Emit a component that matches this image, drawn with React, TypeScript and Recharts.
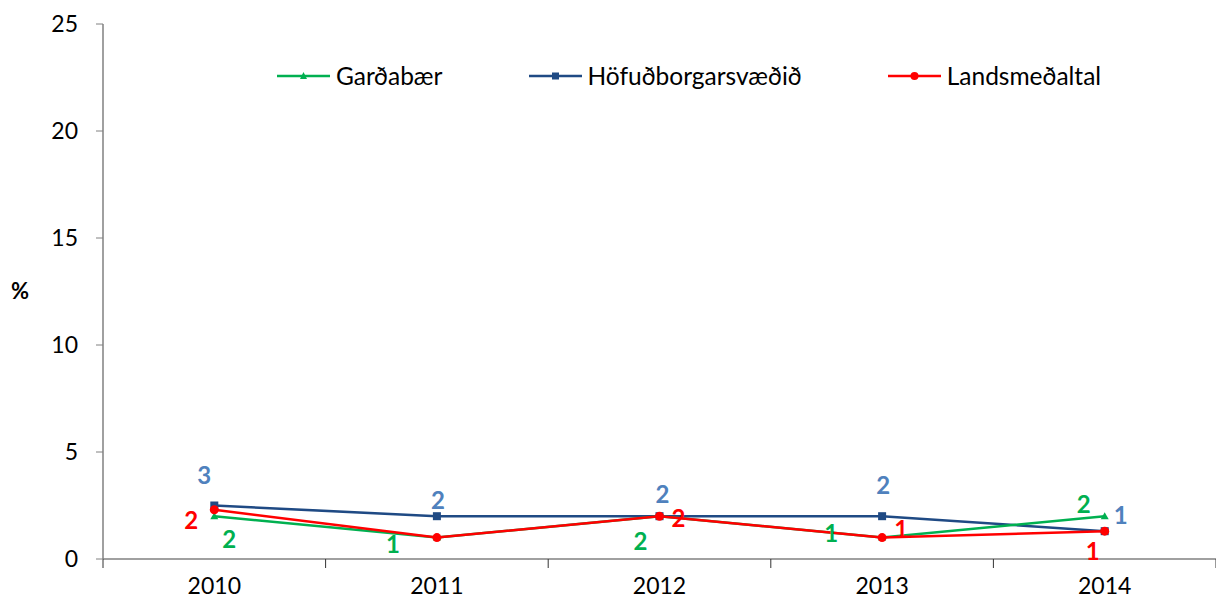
import { LineChart, Line, XAxis, YAxis } from "recharts";

const years = ["2010", "2011", "2012", "2013", "2014"];
const gardabaer = [2.0, 1.0, 2.0, 1.0, 2.0];
const hofudborg = [2.5, 2.0, 2.0, 2.0, 1.3];
const landsmedaltal = [2.3, 1.0, 2.0, 1.0, 1.3];
const yTicks = [0, 5, 10, 15, 20, 25];

// label offsets from the point (dx, dy); null = no label
const blueOff = [[-10, -31], [1, -17], [3, -23], [1, -32], [16, -17]];
const greenOff = [[15, 22], [-44, 6], [-19, 24], [-51, -5], [-21, -13]];
const redOff = [[-23, 10], null, [19, 1], [19, -9], [-12, 19]];

const data = years.map((y, i) => ({
  x: i,
  year: y,
  g: gardabaer[i],
  h: hofudborg[i],
  l: landsmedaltal[i],
}));

const FONT = "Lato, 'Noto Sans', sans-serif";
const GREEN = "#00B050";
const BLUE = "#1F4A84";
const BLUE_LBL = "#4F81BD";
const RED = "#FF0000";

const makeLabel = (color: string, offs: any[]) => (p: any) => {
  const o = offs[p.index];
  if (!o || p.value == null) return null;
  return (
    <text
      x={p.x + o[0]}
      y={p.y + o[1]}
      textAnchor="middle"
      dominantBaseline="central"
      fill={color}
      fontSize={24}
      fontWeight="bold"
      fontFamily={FONT}
    >
      {Math.round(p.value)}
    </text>
  );
};

const Tri = (p: any) => (
  <path d={`M${p.cx},${p.cy - 4} L${p.cx + 4},${p.cy + 3} L${p.cx - 4},${p.cy + 3} Z`} fill={GREEN} />
);
const Sq = (p: any) => <rect x={p.cx - 4} y={p.cy - 4} width={8} height={8} fill={BLUE} />;
const Dot = (p: any) => <circle cx={p.cx} cy={p.cy} r={4.5} fill={RED} />;

const legendItems = [
  { name: "Garðabær", color: GREEN, m: "tri" },
  { name: "Höfuðborgarsvæðið", color: BLUE, m: "sq" },
  { name: "Landsmeðaltal", color: RED, m: "dot" },
];

const LegendBox = () => (
  <div
    style={{
      position: "absolute",
      left: 277,
      top: 61,
      display: "flex",
      alignItems: "center",
      fontFamily: FONT,
      fontSize: 24.5,
      color: "#000",
      whiteSpace: "nowrap",
    }}
  >
    {legendItems.map((it) => (
      <div key={it.name} style={{ display: "flex", alignItems: "center", marginRight: 86 }}>
        <svg width={53} height={12} style={{ marginRight: 6 }}>
          <line x1={0} y1={6} x2={53} y2={6} stroke={it.color} strokeWidth={2.5} />
          {it.m === "tri" && <path d="M26.5,2 L30,9 L23,9 Z" fill={it.color} />}
          {it.m === "sq" && <rect x={23} y={2.5} width={7} height={7} fill={it.color} />}
          {it.m === "dot" && <circle cx={26.5} cy={6} r={4} fill={it.color} />}
        </svg>
        <span>{it.name}</span>
      </div>
    ))}
  </div>
);

export default function App() {
  return (
    <div style={{ position: "absolute", left: 0, top: 0, width: 1216, height: 608, background: "#fff" }}>
      <LineChart width={1216} height={608} data={data} margin={{ top: 24, right: 0, left: 0, bottom: 0 }}>
        <XAxis
          xAxisId="ticks"
          dataKey="x"
          type="number"
          domain={[-0.5, 4.5]}
          ticks={[-0.5, 0.5, 1.5, 2.5, 3.5, 4.5]}
          tickFormatter={() => ""}
          height={10}
          tickSize={9}
          axisLine={{ stroke: "#808080", strokeWidth: 1.5 }}
          tickLine={{ stroke: "#333" }}
        />
        <XAxis
          xAxisId="yr"
          dataKey="x"
          type="number"
          domain={[-0.5, 4.5]}
          ticks={[0, 1, 2, 3, 4]}
          tickFormatter={(v: number) => years[v]}
          height={39}
          axisLine={false}
          tickLine={false}
          tickSize={4}
          tickMargin={5}
          tick={{ fill: "#000", fontSize: 23, fontFamily: FONT }}
        />
        <YAxis
          domain={[0, 25]}
          ticks={yTicks}
          width={103}
          tickSize={7}
          tickMargin={18}
          axisLine={{ stroke: "#808080", strokeWidth: 1.5 }}
          tickLine={{ stroke: "#808080" }}
          tick={{ fill: "#000", fontSize: 23, fontFamily: FONT }}
          label={{ value: "%", position: "insideLeft", offset: 11, fill: "#000", fontSize: 22, fontWeight: "bold", fontFamily: FONT }}
        />
        <Line
          xAxisId="yr"
          dataKey="h"
          stroke={BLUE}
          strokeWidth={2.5}
          dot={<Sq />}
          label={makeLabel(BLUE_LBL, blueOff)}
          isAnimationActive={false}
        />
        <Line
          xAxisId="yr"
          dataKey="g"
          stroke={GREEN}
          strokeWidth={2.5}
          dot={<Tri />}
          label={makeLabel(GREEN, greenOff)}
          isAnimationActive={false}
        />
        <Line
          xAxisId="yr"
          dataKey="l"
          stroke={RED}
          strokeWidth={2.5}
          dot={<Dot />}
          label={makeLabel(RED, redOff)}
          isAnimationActive={false}
        />
      </LineChart>
      <LegendBox />
    </div>
  );
}
